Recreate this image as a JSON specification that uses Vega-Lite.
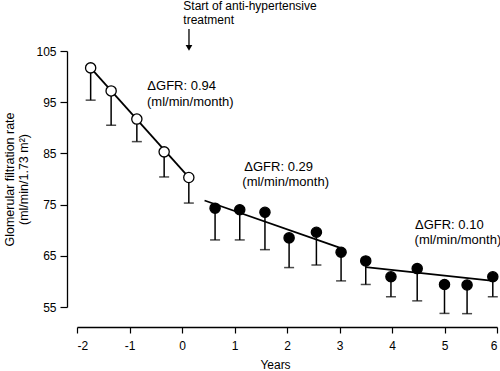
{
  "$schema": "https://vega.github.io/schema/vega-lite/v6.json",
  "width": 420,
  "height": 256,
  "autosize": {"type": "none"},
  "padding": {"left": 77, "top": 51, "right": 3, "bottom": 64},
  "config": {
    "view": {"stroke": null},
    "font": "Liberation Sans",
    "axis": {
      "grid": false,
      "domainColor": "black",
      "domainWidth": 1.3,
      "tickColor": "black",
      "tickWidth": 1.2,
      "labelColor": "black",
      "labelFont": "Liberation Sans",
      "labelFontSize": 12,
      "titleColor": "black",
      "titleFont": "Liberation Sans",
      "titleFontWeight": "normal"
    }
  },
  "datasets": {
    "points": [
      {"year": -1.74, "gfr": 101.7, "lower": 95.4, "phase": "pre"},
      {"year": -1.35, "gfr": 97.2, "lower": 90.5, "phase": "pre"},
      {"year": -0.86, "gfr": 91.7, "lower": 87.3, "phase": "pre"},
      {"year": -0.34, "gfr": 85.3, "lower": 80.4, "phase": "pre"},
      {"year": 0.13, "gfr": 80.3, "lower": 75.3, "phase": "pre"},
      {"year": 0.63, "gfr": 74.3, "lower": 68.1, "phase": "post"},
      {"year": 1.10, "gfr": 74.0, "lower": 68.1, "phase": "post"},
      {"year": 1.58, "gfr": 73.5, "lower": 66.2, "phase": "post"},
      {"year": 2.04, "gfr": 68.5, "lower": 62.7, "phase": "post"},
      {"year": 2.56, "gfr": 69.6, "lower": 63.2, "phase": "post"},
      {"year": 3.03, "gfr": 65.7, "lower": 60.1, "phase": "post"},
      {"year": 3.50, "gfr": 64.0, "lower": 59.4, "phase": "post"},
      {"year": 3.98, "gfr": 60.9, "lower": 57.0, "phase": "post"},
      {"year": 4.48, "gfr": 62.5, "lower": 56.2, "phase": "post"},
      {"year": 5.00, "gfr": 59.4, "lower": 53.75, "phase": "post"},
      {"year": 5.43, "gfr": 59.3, "lower": 53.7, "phase": "post"},
      {"year": 5.92, "gfr": 60.9, "lower": 57.0, "phase": "post"}
    ],
    "fits": [
      {"seg": "a", "year": -1.74, "gfr": 101.7},
      {"seg": "a", "year": 0.13, "gfr": 80.3},
      {"seg": "b", "year": 0.43, "gfr": 75.8},
      {"seg": "b", "year": 3.0, "gfr": 66.6},
      {"seg": "c", "year": 3.5, "gfr": 62.8},
      {"seg": "c", "year": 5.93, "gfr": 60.1}
    ],
    "notes": [
      {"year": -0.66, "gfr": 98.2, "text": "ΔGFR: 0.94"},
      {"year": -0.667, "gfr": 95.1, "text": "(ml/min/month)"},
      {"year": 1.187, "gfr": 82.4, "text": "ΔGFR: 0.29"},
      {"year": 1.149, "gfr": 79.47, "text": "(ml/min/month)"},
      {"year": 4.438, "gfr": 70.95, "text": "ΔGFR: 0.10"},
      {"year": 4.43, "gfr": 68.05, "text": "(ml/min/month)"}
    ],
    "start": [
      {"year": 0.025, "gfr": 113.83, "text": "Start of anti-hypertensive"},
      {"year": 0.025, "gfr": 111.1, "text": "treatment"}
    ],
    "arrow": [
      {"year": 0.133, "gfr": 109.3, "tip": 105.6}
    ]
  },
  "encoding": {
    "x": {
      "field": "year",
      "type": "quantitative",
      "scale": {"domain": [-2, 6], "nice": false, "zero": false},
      "axis": {
        "values": [-2, -1, 0, 1, 2, 3, 4, 5, 6],
        "labelExpr": "'' + datum.value",
        "offset": 20,
        "tickSize": 6,
        "labelPadding": 7,
        "title": "Years",
        "titleFontSize": 12,
        "titleX": 198,
        "titleY": 37,
        "titleBaseline": "middle",
        "titleAlign": "center"
      }
    },
    "y": {
      "field": "gfr",
      "type": "quantitative",
      "scale": {"domain": [55, 105], "nice": false, "zero": false},
      "axis": {
        "values": [55, 65, 75, 85, 95, 105],
        "offset": 10,
        "tickSize": 7,
        "labelPadding": 4,
        "title": ["Glomerular filtration rate", "(ml/min/1.73 m²)"],
        "titleFontSize": 12.5,
        "titleLineHeight": 14,
        "titleAngle": -90,
        "titleX": -58,
        "titleY": 128,
        "titleAlign": "center",
        "titleBaseline": "middle"
      }
    }
  },
  "layer": [
    {
      "data": {"name": "fits"},
      "mark": {"type": "line", "color": "black", "strokeWidth": 1.8},
      "encoding": {"detail": {"field": "seg", "type": "nominal"}}
    },
    {
      "data": {"name": "points"},
      "mark": {"type": "rule", "color": "black", "strokeWidth": 1.5},
      "encoding": {"y2": {"field": "lower"}}
    },
    {
      "data": {"name": "points"},
      "mark": {"type": "tick", "orient": "horizontal", "color": "black", "size": 10, "thickness": 1.5},
      "encoding": {"y": {"field": "lower", "type": "quantitative"}}
    },
    {
      "data": {"name": "points"},
      "mark": {"type": "point", "shape": "circle", "filled": true, "stroke": "black", "strokeWidth": 1.3, "size": 105, "opacity": 1},
      "encoding": {
        "fill": {
          "field": "phase",
          "type": "nominal",
          "scale": {"domain": ["pre", "post"], "range": ["white", "black"]},
          "legend": null
        }
      }
    },
    {
      "data": {"name": "notes"},
      "mark": {"type": "text", "align": "left", "baseline": "middle", "fontSize": 13, "color": "black"},
      "encoding": {"text": {"field": "text", "type": "nominal"}}
    },
    {
      "data": {"name": "start"},
      "mark": {"type": "text", "align": "left", "baseline": "middle", "fontSize": 12, "color": "black"},
      "encoding": {"text": {"field": "text", "type": "nominal"}}
    },
    {
      "data": {"name": "arrow"},
      "mark": {"type": "rule", "color": "black", "strokeWidth": 1.3},
      "encoding": {"y2": {"field": "tip"}}
    },
    {
      "data": {"name": "arrow"},
      "mark": {"type": "point", "shape": "triangle-down", "filled": true, "color": "black", "size": 45, "opacity": 1},
      "encoding": {"y": {"field": "tip", "type": "quantitative"}}
    }
  ]
}
